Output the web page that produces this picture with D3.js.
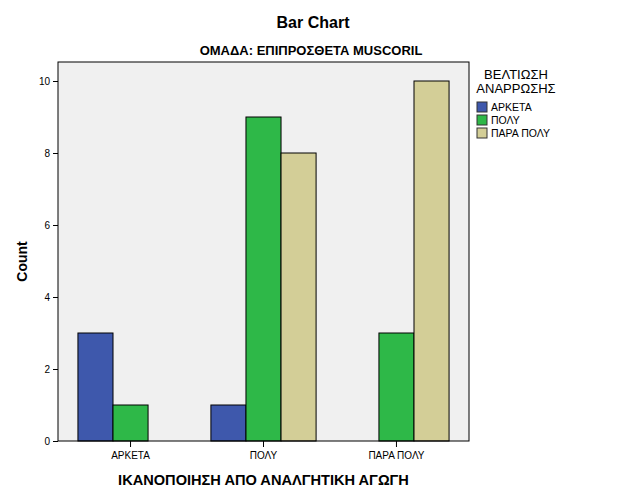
<!DOCTYPE html>
<html>
<head>
<meta charset="utf-8">
<script src="https://cdn.jsdelivr.net/npm/d3@7"></script>
<style>
  body { margin: 0; background: #fff; }
  text { font-family: "Liberation Sans", Arial, sans-serif; }
</style>
</head>
<body>
<svg id="main" width="626" height="501"></svg>
<script>
// categories on the x axis
const categories = ['ΑΡΚΕΤΑ', 'ΠΟΛΥ', 'ΠΑΡΑ ΠΟΛΥ'];
// legend series
const series = ['ΑΡΚΕΤΑ', 'ΠΟΛΥ', 'ΠΑΡΑ ΠΟΛΥ'];
// counts per series, one value per category
const countArketa = [3, 1, 0];
const countPoly = [1, 9, 3];
const countParaPoly = [0, 8, 10];
const yTicks = [0, 2, 4, 6, 8, 10];
const colors = ['#3e58ac', '#2eb848', '#d3ce97'];

const seriesValues = [countArketa, countPoly, countParaPoly];

let svg = d3.select('#main');

// plot area
let pLeft = 58, pRight = 469, pTop = 62, pBottom = 441;

let x0 = d3.scaleBand()
  .domain(categories)
  .range([pLeft, pRight])
  .paddingInner(0.209)
  .paddingOuter(0.15);

let x1 = d3.scaleBand()
  .domain(series)
  .range([0, x0.bandwidth()]);

let y = d3.scaleLinear()
  .domain([0, 10])
  .range([pBottom, 81]);

// background
svg.append('rect')
  .attr('x', pLeft).attr('y', pTop)
  .attr('width', pRight - pLeft).attr('height', pBottom - pTop)
  .style('fill', '#f0f0f0');

// bars
let rows = [];
categories.forEach((c, i) => {
  series.forEach((s, j) => {
    rows.push({ cat: c, ser: s, j: j, value: seriesValues[j][i] });
  });
});

svg.append('g').selectAll('rect')
  .data(rows.filter(d => d.value > 0))
  .join('rect')
  .attr('x', d => x0(d.cat) + x1(d.ser))
  .attr('y', d => y(d.value))
  .attr('width', x1.bandwidth())
  .attr('height', d => y(0) - y(d.value))
  .style('fill', d => colors[d.j])
  .style('stroke', '#000')
  .style('stroke-width', 1);

// frame
svg.append('rect')
  .attr('x', pLeft).attr('y', pTop)
  .attr('width', pRight - pLeft).attr('height', pBottom - pTop)
  .style('fill', 'none')
  .style('stroke', '#000')
  .style('stroke-width', 1);

// y axis
let yAxis = svg.append('g')
  .attr('transform', `translate(${pLeft},0)`)
  .call(d3.axisLeft(y).tickValues(yTicks).tickSize(5).tickPadding(3).tickFormat(d3.format('d')));
yAxis.select('.domain').remove();
yAxis.selectAll('text').style('font-size', '10px').style('fill', '#000')
  .style('font-family', '"Liberation Sans", Arial, sans-serif');

// x axis
let xAxis = svg.append('g')
  .attr('transform', `translate(0,${pBottom})`)
  .call(d3.axisBottom(x0).tickSize(6).tickPadding(5));
xAxis.select('.domain').remove();
xAxis.selectAll('text').style('font-size', '10px').style('fill', '#000')
  .style('font-family', '"Liberation Sans", Arial, sans-serif');

// titles
svg.append('text')
  .attr('x', 313).attr('y', 28)
  .attr('text-anchor', 'middle')
  .style('font-size', '16px').style('font-weight', 'bold')
  .text('Bar Chart');

svg.append('text')
  .attr('x', 311).attr('y', 55)
  .attr('text-anchor', 'middle')
  .style('font-size', '13px').style('font-weight', 'bold')
  .text('ΟΜΑΔΑ: ΕΠΙΠΡΟΣΘΕΤΑ MUSCORIL');

svg.append('text')
  .attr('x', (pLeft + pRight) / 2).attr('y', 485)
  .attr('text-anchor', 'middle')
  .style('font-size', '14.6px').style('font-weight', 'bold')
  .text('ΙΚΑΝΟΠΟΙΗΣΗ ΑΠΟ ΑΝΑΛΓΗΤΙΚΗ ΑΓΩΓΗ');

svg.append('text')
  .attr('transform', `translate(27,${(pTop + pBottom) / 2 + 10}) rotate(-90)`)
  .attr('text-anchor', 'middle')
  .style('font-size', '14px').style('font-weight', 'bold')
  .text('Count');

// legend
let legend = svg.append('g');
legend.append('text')
  .attr('x', 516).attr('y', 79)
  .attr('text-anchor', 'middle')
  .style('font-size', '13px')
  .text('ΒΕΛΤΙΩΣΗ');
legend.append('text')
  .attr('x', 516).attr('y', 93)
  .attr('text-anchor', 'middle')
  .style('font-size', '13px')
  .text('ΑΝΑΡΡΩΣΗΣ');

let items = legend.selectAll('.item').data(series)
  .join('g')
  .attr('class', 'item')
  .attr('transform', (d, i) => `translate(477,${102 + i * 13})`);
items.append('rect')
  .attr('width', 10).attr('height', 10)
  .style('fill', (d, i) => colors[i])
  .style('stroke', '#333')
  .style('stroke-width', 1);
items.append('text')
  .attr('x', 14).attr('y', 9)
  .style('font-size', '10.5px')
  .text(d => d);
</script>
</body>
</html>
